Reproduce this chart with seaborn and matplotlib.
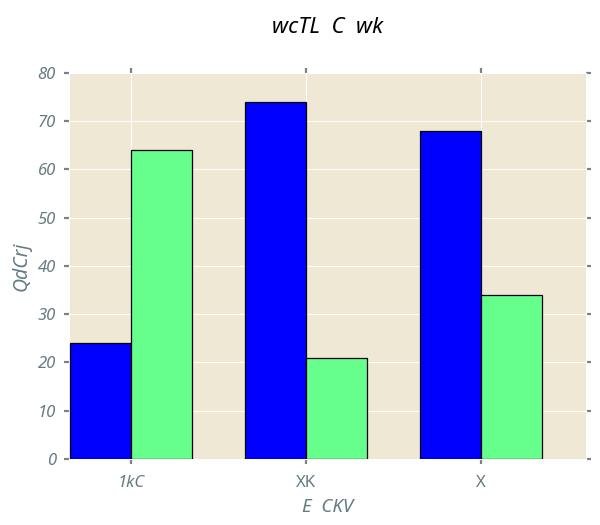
import matplotlib
matplotlib.use("Agg")
import matplotlib.pyplot as plt
import seaborn as sns
import pandas as pd

categories = ["1kC", "XK", "X"]
series_names = ["A", "B"]
blue_values = [24, 74, 68]
green_values = [64, 21, 34]
yticks = [0, 10, 20, 30, 40, 50, 60, 70, 80]

df = pd.DataFrame({
    "cat": categories * 2,
    "series": [series_names[0]] * 3 + [series_names[1]] * 3,
    "value": blue_values + green_values,
})

sns.set_theme(style="white")
plt.rcParams["font.family"] = ["Noto Sans", "DejaVu Sans"]
text_grey = "#657b83"

fig, ax = plt.subplots(figsize=(6, 5.25), dpi=100)
fig.subplots_adjust(left=0.115, right=0.977, top=0.861, bottom=0.126)
ax.set_facecolor("#EEE8D5")

sns.barplot(data=df, x="cat", y="value", hue="series", order=categories,
            hue_order=series_names, palette=["#0000FF", "#66FF8C"],
            width=0.7, edgecolor="black", linewidth=0.9, saturation=1,
            legend=False, ax=ax, zorder=3)

ax.set_xlim(-0.354, 2.6)
ax.set_ylim(0, 80)
ax.set_yticks(yticks)
ax.grid(True, color="white", linewidth=0.7, zorder=0)
ax.set_axisbelow(True)
for s in ax.spines.values():
    s.set_color("white")
    s.set_linewidth(0.8)

ax.tick_params(axis="both", which="both", direction="out", length=3.5, width=1.6,
               color="#808080", top=True, right=True, bottom=True, left=True,
               labelsize=12, labelcolor=text_grey)
ax.tick_params(axis="x", pad=8)
ax.tick_params(axis="y", pad=6)
for lab in ax.get_yticklabels():
    lab.set_fontstyle("italic")
for lab in ax.get_xticklabels():
    if lab.get_text() == categories[0]:
        lab.set_fontstyle("italic")

ax.set_xlabel("E  CKV", fontsize=13.5, color=text_grey, fontstyle="italic", labelpad=5)
ax.set_ylabel("QdCrj", fontsize=14, color=text_grey, fontstyle="italic", labelpad=4)
ax.set_title("wcTL  C  wk", fontsize=16, color="black", fontstyle="italic", pad=29)

fig.savefig("out.png", dpi=100)
